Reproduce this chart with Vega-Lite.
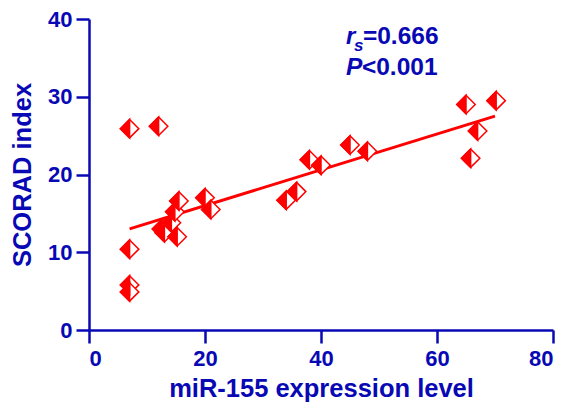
{
  "$schema": "https://vega.github.io/schema/vega-lite/v6.json",
  "autosize": "none",
  "width": 464,
  "height": 311,
  "padding": {"left": 89, "top": 19, "right": 15, "bottom": 84},
  "background": "white",
  "config": {
    "view": {"stroke": null},
    "font": "Liberation Sans",
    "axis": {
      "grid": false,
      "domainColor": "#0808b4",
      "domainWidth": 2.5,
      "tickColor": "#0808b4",
      "tickWidth": 2.5,
      "tickSize": 13,
      "labelColor": "#0808b4",
      "labelFont": "Liberation Sans",
      "labelFontSize": 22,
      "labelFontWeight": "bold",
      "titleColor": "#0808b4",
      "titleFont": "Liberation Sans",
      "titleFontSize": 25.5,
      "titleFontWeight": "bold"
    }
  },
  "datasets": {
    "points": [
      {"mir": 7, "scorad": 25.9},
      {"mir": 12, "scorad": 26.2},
      {"mir": 7, "scorad": 10.4},
      {"mir": 7, "scorad": 5.8},
      {"mir": 7, "scorad": 4.9},
      {"mir": 12.5, "scorad": 13.0},
      {"mir": 13, "scorad": 12.5},
      {"mir": 14.2, "scorad": 13.8},
      {"mir": 14.8, "scorad": 15.2},
      {"mir": 15.5, "scorad": 16.6},
      {"mir": 15.2, "scorad": 12.0},
      {"mir": 20, "scorad": 17.0},
      {"mir": 21, "scorad": 15.5},
      {"mir": 34, "scorad": 16.7},
      {"mir": 35.8, "scorad": 17.8},
      {"mir": 38, "scorad": 21.9},
      {"mir": 40, "scorad": 21.2},
      {"mir": 45, "scorad": 23.8},
      {"mir": 48, "scorad": 23.0},
      {"mir": 65, "scorad": 29.0},
      {"mir": 70.2, "scorad": 29.5},
      {"mir": 67, "scorad": 25.6},
      {"mir": 65.8, "scorad": 22.1}
    ],
    "fit": [
      {"mir": 7, "scorad": 13.0},
      {"mir": 70, "scorad": 27.5}
    ]
  },
  "encoding": {
    "x": {
      "field": "mir", "type": "quantitative",
      "scale": {"domain": [0, 80], "nice": false, "zero": false},
      "axis": {"values": [0, 20, 40, 60, 80], "title": "miR-155 expression level", "labelPadding": 5, "titlePadding": 7}
    },
    "y": {
      "field": "scorad", "type": "quantitative",
      "scale": {"domain": [0, 40], "nice": false, "zero": false},
      "axis": {"values": [0, 10, 20, 30, 40], "title": "SCORAD index", "labelPadding": 4, "titlePadding": 12}
    }
  },
  "layer": [
    {
      "data": {"name": "fit"},
      "mark": {"type": "line", "color": "#ff0000", "strokeWidth": 3}
    },
    {
      "data": {"name": "points"},
      "mark": {"type": "point", "shape": "M0,-1L1,0L0,1L-1,0Z", "filled": true, "fill": "white", "stroke": "#ff0000", "strokeWidth": 1.5, "size": 340, "opacity": 1}
    },
    {
      "data": {"name": "points"},
      "mark": {"type": "point", "shape": "M0,-1L-1,0L0,1Z", "filled": true, "fill": "#ff0000", "stroke": "#ff0000", "strokeWidth": 1.5, "size": 340, "opacity": 1}
    },
    {
      "data": {"values": [{"mir": 44.3, "scorad": 37.7, "t": "r"}]},
      "mark": {"type": "text", "align": "left", "baseline": "middle", "fontSize": 24, "fontWeight": "bold", "fontStyle": "italic", "color": "#0808b4"},
      "encoding": {"text": {"field": "t"}}
    },
    {
      "data": {"values": [{"mir": 44.3, "scorad": 37.7, "t": "s"}]},
      "mark": {"type": "text", "align": "left", "baseline": "middle", "dx": 8, "dy": 9, "fontSize": 17, "fontWeight": "bold", "fontStyle": "italic", "color": "#0808b4"},
      "encoding": {"text": {"field": "t"}}
    },
    {
      "data": {"values": [{"mir": 44.3, "scorad": 37.7, "t": "=0.666"}]},
      "mark": {"type": "text", "align": "left", "baseline": "middle", "dx": 17, "fontSize": 24.5, "fontWeight": "bold", "color": "#0808b4"},
      "encoding": {"text": {"field": "t"}}
    },
    {
      "data": {"values": [{"mir": 44.3, "scorad": 33.7, "t": "P"}]},
      "mark": {"type": "text", "align": "left", "baseline": "middle", "fontSize": 24.5, "fontWeight": "bold", "fontStyle": "italic", "color": "#0808b4"},
      "encoding": {"text": {"field": "t"}}
    },
    {
      "data": {"values": [{"mir": 44.3, "scorad": 33.7, "t": "<0.001"}]},
      "mark": {"type": "text", "align": "left", "baseline": "middle", "dx": 16, "fontSize": 24.5, "fontWeight": "bold", "color": "#0808b4"},
      "encoding": {"text": {"field": "t"}}
    }
  ]
}
